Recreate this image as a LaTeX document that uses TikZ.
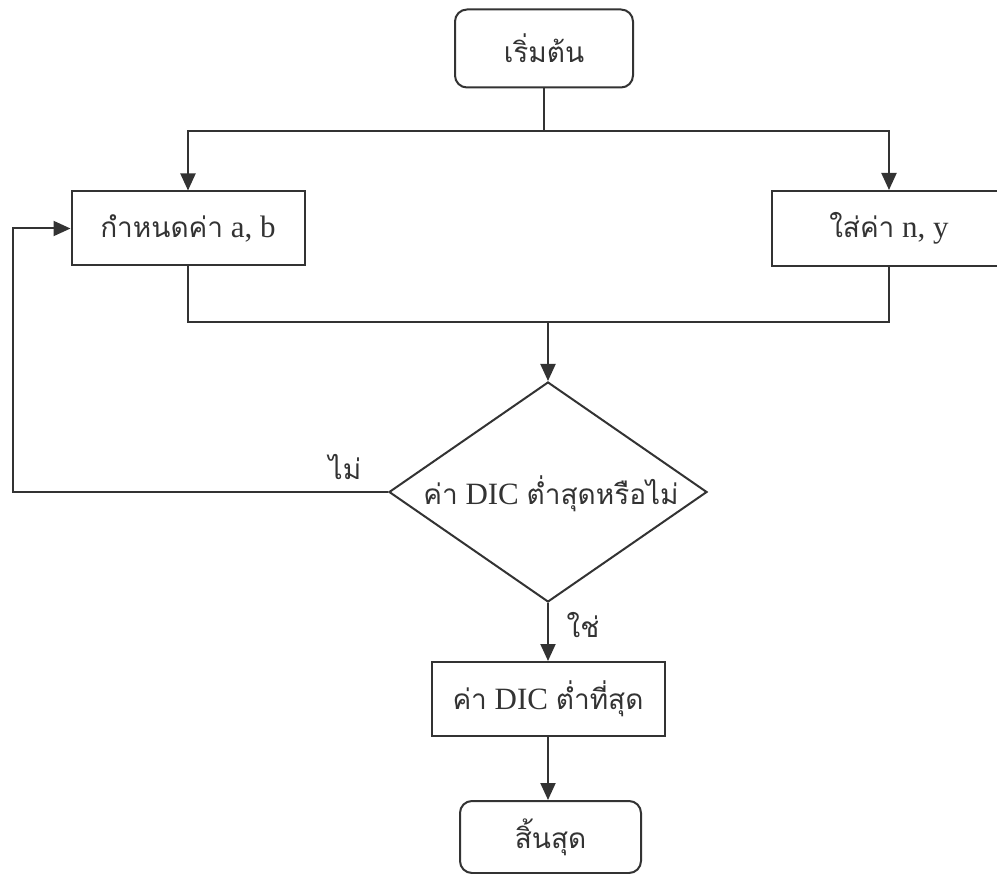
\documentclass[tikz,border=0pt]{standalone}
\usepackage{fontspec}
\setmainfont{Liberation Serif}
\newfontfamily\thaifont[Script=Thai]{Loma}
\usetikzlibrary{shapes.geometric,arrows.meta}
\newcommand\tht[1]{{\thaifont\fontsize{28}{30}\selectfont #1}}
\definecolor{ink}{RGB}{51,51,51}
\tikzset{
  base/.style={draw=ink, line width=2pt, text=ink, inner sep=0pt, align=center,
    font=\fontsize{31}{33}\selectfont},
  roundbox/.style={base, rectangle, rounded corners=12pt},
  procbox/.style={base, rectangle},
  decision/.style={draw=ink, line width=2pt, diamond, inner sep=0pt},
  lbl/.style={text=ink, inner sep=0pt, font=\fontsize{31}{33}\selectfont},
  conn/.style={draw=ink, line width=2pt},
  arr/.style={conn, -{Triangle[length=17pt,width=15pt]}}
}
\begin{document}
\begin{tikzpicture}[x=1pt,y=-1pt]
\useasboundingbox (0,0) rectangle (997,874);
\clip (0,0) rectangle (997,874);
\node[roundbox, minimum width=178pt, minimum height=78pt] (start) at (544,48.5) {\tht{เริ่มต้น}};
\node[procbox, minimum width=233pt, minimum height=74pt] (A) at (188,228.5) {\tht{กำหนดค่า} a, b};
\node[procbox, minimum width=234pt, minimum height=75pt] (B) at (889,228.5) {\tht{ใส่ค่า} n, y};
\node[decision, minimum width=318pt, minimum height=220pt] (D) at (548,492) {};
\node[lbl] (Dtext) at (551,494) {\tht{ค่า} DIC \tht{ต่ำสุดหรือไม่}};
\node[procbox, minimum width=233pt, minimum height=74pt] (E) at (548,699) {\tht{ค่า} DIC \tht{ต่ำที่สุด}};
\node[roundbox, minimum width=181pt, minimum height=72pt] (F) at (550.5,837) {\tht{สิ้นสุด}};
\node[lbl] (no) at (345,467) {\tht{ไม่}};
\node[lbl] (yes) at (583,625) {\tht{ใช่}};
\coordinate (j1) at (start.south |- 0,131);
\coordinate (j2) at (548,322);
\coordinate (fb) at (13,492);
\draw[conn] (start.south) -- (j1);
\draw[arr] (j1) -| (A.north);
\draw[arr] (j1) -| (B.north);
\draw[conn] (A.south) -- (A.south |- j2) -- (B.south |- j2) -- (B.south);
\draw[arr] (j2) -- (D.north);
\draw[arr] (D.west) -- (fb) |- (A.west);
\draw[arr] (D.south) -- (E.north);
\draw[arr] (E.south) -- (F.north -| E.south);
\end{tikzpicture}
\end{document}
